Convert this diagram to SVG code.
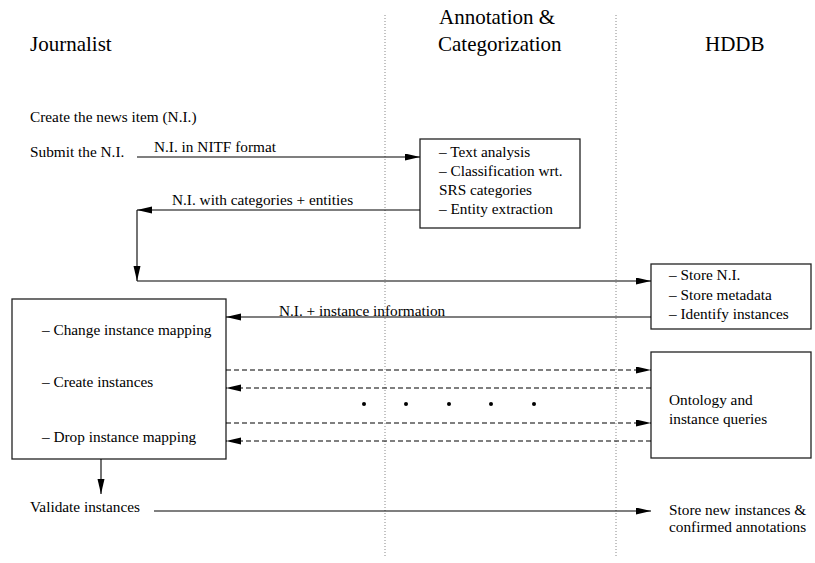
<svg xmlns="http://www.w3.org/2000/svg" width="815" height="563" viewBox="0 0 815 563">
<defs>
<marker id="ah" markerUnits="userSpaceOnUse" markerWidth="15" markerHeight="8" refX="15" refY="3.5" orient="auto">
<path d="M0,0 L15,3.5 L0,7 Z" fill="#000"/>
</marker>
<style>
text{font-family:"Liberation Serif","Times New Roman",serif;fill:#000}
.h{font-size:21px}
.t{font-size:15.3px}
.box{fill:#fff;stroke:#222;stroke-width:1.3}
.ln{fill:none;stroke:#000;stroke-width:1.1}
.dash{fill:none;stroke:#000;stroke-width:1.1;stroke-dasharray:5,3}
.lane{fill:none;stroke:#888;stroke-width:1;stroke-dasharray:1,2}
</style>
</defs>
<rect width="815" height="563" fill="#fff"/>
<g id="lanes">
<line class="lane" x1="385" y1="15" x2="385" y2="558"/>
<line class="lane" x1="616" y1="15" x2="616" y2="558"/>
</g>
<g id="headers">
<text class="h" x="30" y="51">Journalist</text>
<text class="h" x="439" y="24">Annotation &amp;</text>
<text class="h" x="438" y="51">Categorization</text>
<text class="h" x="705" y="51">HDDB</text>
</g>
<g id="journalist-steps">
<text class="t" x="30" y="122">Create the news item (N.I.)</text>
<text class="t" x="30" y="157">Submit the N.I.</text>
<text class="t" x="30" y="512">Validate instances</text>
</g>
<g id="annotation-box">
<rect class="box" x="420" y="139" width="160" height="89"/>
<text class="t" x="439" y="157">– Text analysis</text>
<text class="t" x="439" y="176">– Classification wrt.</text>
<text class="t" x="439" y="195">SRS categories</text>
<text class="t" x="439" y="214">– Entity extraction</text>
</g>
<g id="store-box">
<rect class="box" x="651" y="264" width="160" height="65"/>
<text class="t" x="669" y="280">– Store N.I.</text>
<text class="t" x="669" y="300">– Store metadata</text>
<text class="t" x="669" y="319">– Identify instances</text>
</g>
<g id="journalist-box">
<rect class="box" x="12" y="299" width="214" height="160"/>
<text class="t" x="42" y="335">– Change instance mapping</text>
<text class="t" x="42" y="387">– Create instances</text>
<text class="t" x="42" y="442">– Drop instance mapping</text>
</g>
<g id="ontology-box">
<rect class="box" x="651" y="352" width="160" height="106"/>
<text class="t" x="669" y="405">Ontology and</text>
<text class="t" x="669" y="424">instance queries</text>
</g>
<g id="store-new">
<text class="t" x="669" y="515">Store new instances &amp;</text>
<text class="t" x="669" y="532">confirmed annotations</text>
</g>
<g id="connectors">
<line class="ln" x1="137" y1="157" x2="420" y2="157" marker-end="url(#ah)"/>
<text class="t" x="154" y="152">N.I. in NITF format</text>
<line class="ln" x1="420" y1="210" x2="137" y2="210" marker-end="url(#ah)"/>
<text class="t" x="172" y="205">N.I. with categories + entities</text>
<line class="ln" x1="137" y1="210" x2="137" y2="281" marker-end="url(#ah)"/>
<line class="ln" x1="137" y1="281" x2="651" y2="281" marker-end="url(#ah)"/>
<line class="ln" x1="651" y1="317" x2="226" y2="317" marker-end="url(#ah)"/>
<text class="t" x="279" y="316">N.I. + instance information</text>
<line class="dash" x1="226" y1="370" x2="651" y2="370" marker-end="url(#ah)"/>
<line class="dash" x1="651" y1="388" x2="226" y2="388" marker-end="url(#ah)"/>
<line class="dash" x1="226" y1="423" x2="651" y2="423" marker-end="url(#ah)"/>
<line class="dash" x1="651" y1="441" x2="226" y2="441" marker-end="url(#ah)"/>
<circle cx="364" cy="404" r="2"/>
<circle cx="406" cy="404" r="2"/>
<circle cx="449" cy="404" r="2"/>
<circle cx="491" cy="404" r="2"/>
<circle cx="534" cy="404" r="2"/>
<line class="ln" x1="101" y1="459" x2="101" y2="494" marker-end="url(#ah)"/>
<line class="ln" x1="154" y1="511" x2="651" y2="511" marker-end="url(#ah)"/>
</g>
</svg>
